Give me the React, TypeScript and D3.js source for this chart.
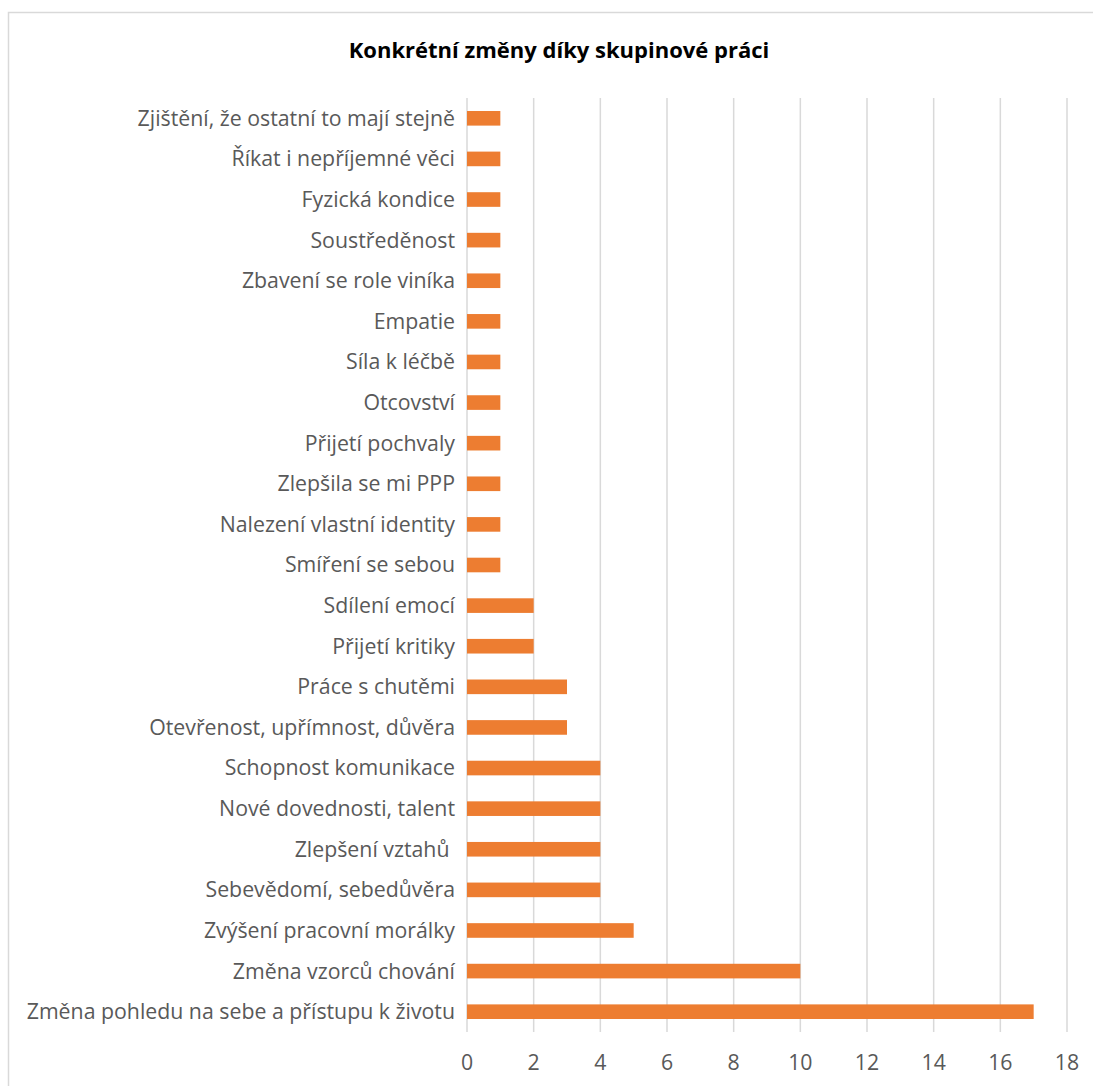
import React from 'react'
import * as d3 from 'd3'

const title = 'Konkrétní změny díky skupinové práci'

const categories = [
  'Zjištění, že ostatní to mají stejně',
  'Říkat i nepříjemné věci',
  'Fyzická kondice',
  'Soustředěnost',
  'Zbavení se role viníka',
  'Empatie',
  'Síla k léčbě',
  'Otcovství',
  'Přijetí pochvaly',
  'Zlepšila se mi PPP',
  'Nalezení vlastní identity',
  'Smíření se sebou',
  'Sdílení emocí',
  'Přijetí kritiky',
  'Práce s chutěmi',
  'Otevřenost, upřímnost, důvěra',
  'Schopnost komunikace',
  'Nové dovednosti, talent',
  'Zlepšení vztahů ',
  'Sebevědomí, sebedůvěra',
  'Zvýšení pracovní morálky',
  'Změna vzorců chování',
  'Změna pohledu na sebe a přístupu k životu',
]

const values = [1, 1, 1, 1, 1, 1, 1, 1, 1, 1, 1, 1, 2, 2, 3, 3, 4, 4, 4, 4, 5, 10, 17]

const xTicks = [0, 2, 4, 6, 8, 10, 12, 14, 16, 18]

const font = '"Open Sans", Lato, sans-serif'

const App = () => {
  const width = 1093
  const height = 1086
  const left = 467
  const right = 1067
  const top = 98
  const bottom = 1032

  const x = d3.scaleLinear().domain([0, 18]).range([left, right])
  const y = d3
    .scaleBand<string>()
    .domain(categories)
    .range([top, bottom])
    .paddingInner(0.64)
    .paddingOuter(0.32)

  return (
    <svg width={width} height={height} style={{ display: 'block', position: 'absolute', left: 0, top: 0 }}>
      <rect x={0} y={0} width={width} height={height} fill="#fff" />
      {/* chart frame, only top and left edges are in view */}
      <path d={`M8.5,${height} V12.5 H${width}`} fill="none" stroke="#d9d9d9" strokeWidth={1.5} />

      <text
        x={559}
        y={58}
        textAnchor="middle"
        fontFamily={font}
        fontWeight="bold"
        fontSize={22}
        fill="#000"
      >
        {title}
      </text>

      <g stroke="#d9d9d9" strokeWidth={1.5}>
        {xTicks.map((t) => (
          <line key={t} x1={x(t)} x2={x(t)} y1={top} y2={bottom} />
        ))}
      </g>

      <g fill="#ed7d31">
        {categories.map((c, i) => (
          <rect key={c} x={x(0)} y={y(c)} width={x(values[i]) - x(0)} height={y.bandwidth()} />
        ))}
      </g>

      <g fontFamily={font} fontSize={21.3} fill="#595959">
        {categories.map((c) => (
          <text
            key={c}
            x={left - 12}
            y={(y(c) ?? 0) + y.bandwidth() / 2}
            dy="0.35em"
            textAnchor="end"
            xmlSpace="preserve"
          >
            {c}
          </text>
        ))}
        {xTicks.map((t) => (
          <text key={t} x={x(t)} y={1063} dy="0.35em" textAnchor="middle">
            {t}
          </text>
        ))}
      </g>
    </svg>
  )
}

export default App
